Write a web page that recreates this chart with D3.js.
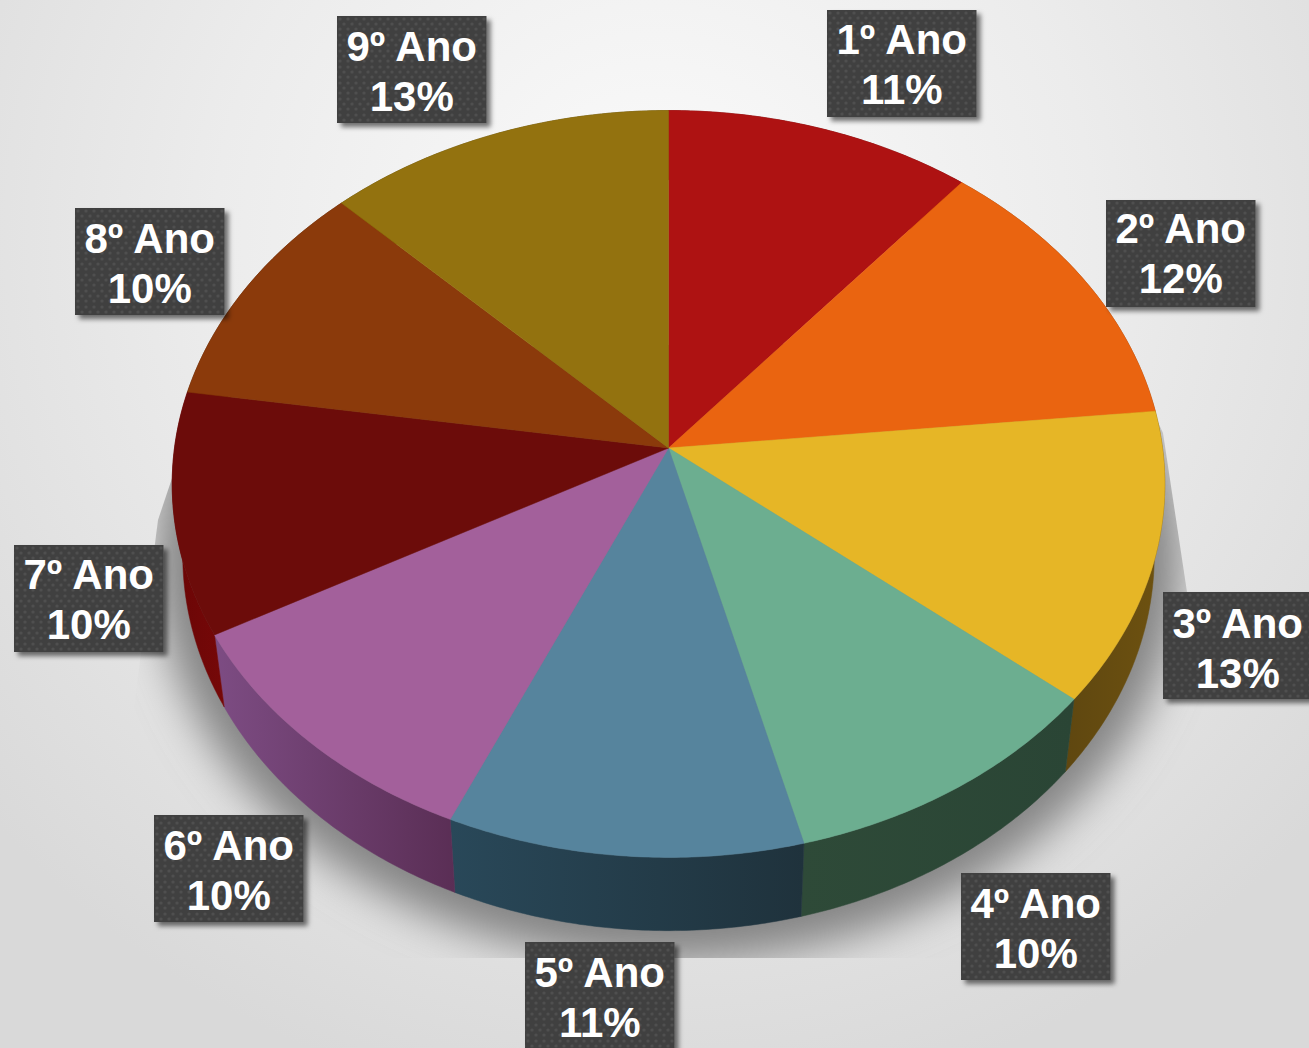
<!DOCTYPE html>
<html>
<head>
<meta charset="utf-8">
<style>
html,body{margin:0;padding:0;overflow:hidden;background:#e6e6e6}
svg{display:block}
text{font-family:"Liberation Sans",Arial,sans-serif;font-weight:700;fill:#fff}
</style>
<script src="https://cdn.jsdelivr.net/npm/d3@7/dist/d3.min.js"></script>
</head>
<body>
<svg id="c" width="1309" height="1048"></svg>
<script>
// Data
const categories = ["1º Ano","2º Ano","3º Ano","4º Ano","5º Ano","6º Ano","7º Ano","8º Ano","9º Ano"];
const shares = [11, 12.4, 12.6, 10, 10.6, 10.4, 10.45, 10.05, 12.5];

// Styles
const topColors = ["#ae1212","#ea6410","#e6b626","#6cae90","#56849d","#a3609b","#6c0c0a","#8b3a0b","#93720f"];
const wallFrom  = ["#6e0b0b","#8c3c0a","#5f4710","#2e4a38","#294859","#7d4c83","#6a0606","#55240a","#584409"];
const wallTo    = ["#6e0b0b","#8c3c0a","#6e5210","#2a4535","#1f323c","#5a2e55","#760808","#55240a","#584409"];
// Top-left corner of each label box (manual placement in the original), and text nudge
const labelCorners = [[827,10],[1106,200],[1163,592],[961,873],[525,942],[154,815],[14,545],[75,208],[337,16]];
const labelNudge = [-1,-2,1,0,0,0,-1,0,0];

const W = 1309, H = 1048;
const svg = d3.select("#c");
const defs = svg.append("defs");

// Perspective projection of the unit disc; level 0 = top face, level 1 = base rim
const persp = 0.0963;
const planes = [
  {cx:668.5, cy:448, rx:494, ry:370},
  {cx:668.5, cy:519, rx:483.5, ry:372}
];
function project(a, level){
  const x = Math.sin(a), y = -Math.cos(a), w = 1 - persp*y, p = planes[level];
  return [p.cx + p.rx*x/w, p.cy + p.ry*y/w];
}
function rim(a0, a1, level){
  const n = Math.max(2, Math.ceil((a1-a0)/0.01));
  return d3.range(n+1).map(i => project(a0 + (a1-a0)*i/n, level));
}
const line = d3.line();
const slices = d3.pie().sort(null).value(d => d)(shares);

// Background
const bg = defs.append("radialGradient").attr("id","bg").attr("gradientUnits","userSpaceOnUse")
  .attr("cx",655).attr("cy",240).attr("r",880);
bg.append("stop").attr("offset",0).attr("stop-color","#fbfbfb");
bg.append("stop").attr("offset",0.5).attr("stop-color","#ececec");
bg.append("stop").attr("offset",1).attr("stop-color","#d9d9d9");
svg.append("rect").attr("width",W).attr("height",H).attr("fill","url(#bg)");

// Cast shadow, blurred and cut by a hard-edged polygon
const blur = defs.append("filter").attr("id","blur").attr("x","-20%").attr("y","-20%").attr("width","140%").attr("height","140%");
blur.append("feGaussianBlur").attr("stdDeviation",20);
defs.append("clipPath").attr("id","shadowClip").append("polygon")
  .attr("points","215,350 158,520 140,660 102,958 1242,958 1187,592 1163,433 1120,340");
svg.append("g").attr("clip-path","url(#shadowClip)")
  .append("path")
  .attr("d", line(rim(0, 2*Math.PI, 1)) + "Z")
  .attr("transform","translate(668,519) scale(1.055,1.075) translate(-668,-519)")
  .attr("fill","#848484")
  .attr("filter","url(#blur)");

// Walls
slices.forEach((s,i) => {
  const top = rim(s.startAngle, s.endAngle, 0);
  const base = rim(s.startAngle, s.endAngle, 1).reverse();
  const xs = top.concat(base).map(p => p[0]);
  const g = defs.append("linearGradient").attr("id","wall"+i).attr("gradientUnits","userSpaceOnUse")
    .attr("x1",d3.min(xs)).attr("x2",d3.max(xs)).attr("y1",0).attr("y2",0);
  g.append("stop").attr("offset",0).attr("stop-color",wallFrom[i]);
  g.append("stop").attr("offset",1).attr("stop-color",wallTo[i]);
  svg.append("path").attr("d", line(top.concat(base))+"Z")
    .attr("fill",`url(#wall${i})`).attr("stroke",`url(#wall${i})`).attr("stroke-width",0.5);
});

// Top face
const apex = [planes[0].cx, planes[0].cy];
svg.append("g").selectAll("path").data(slices).join("path")
  .attr("d", s => line([apex].concat(rim(s.startAngle, s.endAngle, 0)))+"Z")
  .attr("fill",(s,i) => topColors[i])
  .attr("stroke",(s,i) => topColors[i])
  .attr("stroke-width",0.5);

// Label boxes
const pat = defs.append("pattern").attr("id","dots").attr("patternUnits","userSpaceOnUse").attr("width",16).attr("height",16);
pat.append("rect").attr("width",16).attr("height",16).attr("fill","#414141");
[[3,3],[11,3],[7,8],[15,8],[-1,8],[3,13],[11,13]].forEach(d =>
  pat.append("circle").attr("cx",d[0]).attr("cy",d[1]).attr("r",1.5).attr("fill","#4f4f4f"));
const boxShadow = defs.append("filter").attr("id","boxShadow").attr("x","-10%").attr("y","-10%").attr("width","125%").attr("height","125%");
boxShadow.append("feDropShadow").attr("dx",4).attr("dy",4).attr("stdDeviation",2.5).attr("flood-color","#000").attr("flood-opacity",0.55);

const boxW = 149.5, boxH = 107;
const lab = svg.append("g").selectAll("g").data(categories).join("g")
  .attr("transform",(d,i) => `translate(${labelCorners[i][0]},${labelCorners[i][1]})`);
lab.append("rect").attr("width",boxW).attr("height",boxH).attr("fill","url(#dots)").attr("filter","url(#boxShadow)");
lab.append("text").attr("x",boxW/2).attr("y",(d,i) => 45 + labelNudge[i]).attr("text-anchor","middle").attr("font-size",42).text(d => d);
lab.append("text").attr("x",boxW/2).attr("y",(d,i) => 94.5 + labelNudge[i]).attr("text-anchor","middle").attr("font-size",42)
  .text((d,i) => Math.round(shares[i]) + "%");
</script>
</body>
</html>
